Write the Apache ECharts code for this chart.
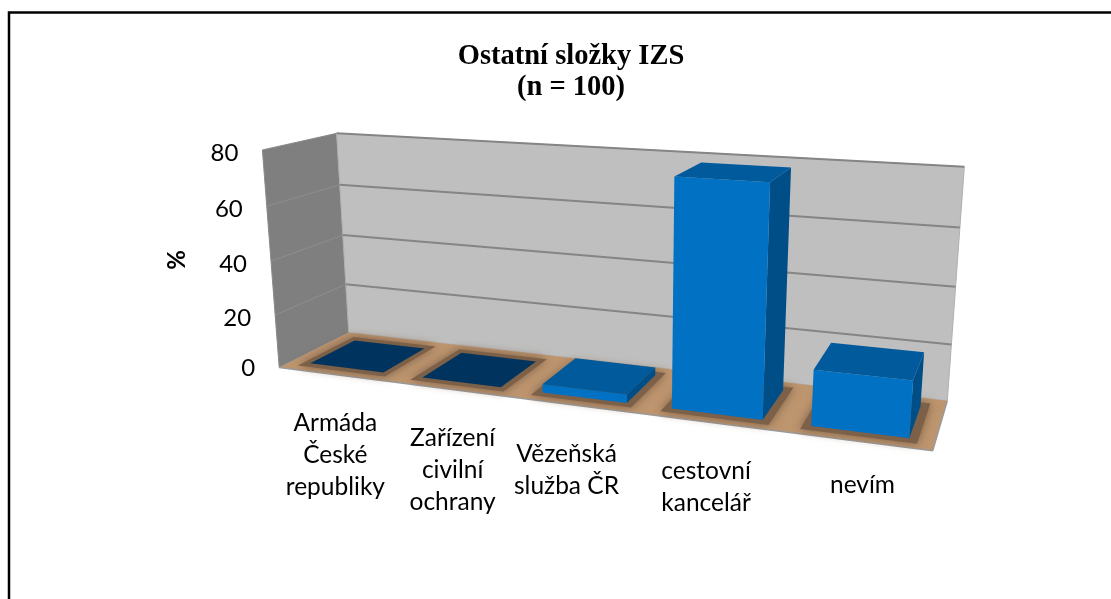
<!DOCTYPE html>
<html>
<head>
<meta charset="utf-8">
<script src="https://cdn.jsdelivr.net/npm/echarts@6/dist/echarts.min.js"></script>
<style>
html, body { margin: 0; padding: 0; background: #fff; }
#chart { width: 1111px; height: 599px; }
</style>
</head>
<body>
<div id="chart"></div>
<script>
const categories = ['Armáda\nČeské\nrepubliky', 'Zařízení\ncivilní\nochrany', 'Vězeňská\nslužba ČR', 'cestovní\nkancelář', 'nevím'];
const values = [0, 0, 3, 78, 19];
const yTicks = [0, 20, 40, 60, 80];

// pixel nudges for the category labels, Excel does not centre them under the bars
const labelDx = [1, 2, -9, -4, 7];
const labelDy = [81, 81, 65, 65, 44];

// box corners: [u, v, h] -> [x, y]
const corners = [
    [[0, 0, 0], [279.3, 367.3]],
    [[1, 0, 0], [932.7, 451]],
    [[0, 1, 0], [348.7, 332.7]],
    [[1, 1, 0], [947.3, 400.7]],
    [[0, 0, 1], [262.3, 150]],
    [[0, 1, 1], [336.7, 133.3]],
    [[1, 1, 1], [964.3, 166.7]]
];

const barFrac = 0.66;
const depth0 = 0.17, depth1 = 0.82;

function solve(A, b) {
    const n = b.length;
    const M = A.map((r, i) => r.concat(b[i]));
    for (let i = 0; i < n; i++) {
        let p = i;
        for (let r = i + 1; r < n; r++) if (Math.abs(M[r][i]) > Math.abs(M[p][i])) p = r;
        [M[i], M[p]] = [M[p], M[i]];
        for (let r = 0; r < n; r++) {
            if (r === i) continue;
            const f = M[r][i] / M[i][i];
            for (let c = i; c <= n; c++) M[r][c] -= f * M[i][c];
        }
    }
    return M.map((r, i) => r[n] / r[i]);
}

// least squares fit of the 3d -> 2d perspective matrix
function fitProjection() {
    const rows = [], rhs = [];
    corners.forEach(([q, p]) => {
        rows.push([q[0], q[1], q[2], 1, 0, 0, 0, 0, -p[0] * q[0], -p[0] * q[1], -p[0] * q[2]]);
        rhs.push(p[0]);
        rows.push([0, 0, 0, 0, q[0], q[1], q[2], 1, -p[1] * q[0], -p[1] * q[1], -p[1] * q[2]]);
        rhs.push(p[1]);
    });
    const ata = [], atb = [];
    for (let i = 0; i < 11; i++) {
        ata.push([]);
        let s = 0;
        for (let k = 0; k < rows.length; k++) s += rows[k][i] * rhs[k];
        atb.push(s);
        for (let j = 0; j < 11; j++) {
            let t = 0;
            for (let k = 0; k < rows.length; k++) t += rows[k][i] * rows[k][j];
            ata[i].push(t);
        }
    }
    return solve(ata, atb);
}
const m = fitProjection();

function project(u, v, h) {
    const w = m[8] * u + m[9] * v + m[10] * h + 1;
    return [
        (m[0] * u + m[1] * v + m[2] * h + m[3]) / w,
        (m[4] * u + m[5] * v + m[6] * h + m[7]) / w
    ];
}

function poly(points, fill, extra) {
    return {
        type: 'polygon',
        shape: { points: points },
        style: Object.assign({ fill: fill }, extra || {})
    };
}

function seg(a, b, color, width) {
    return {
        type: 'line',
        shape: { x1: a[0], y1: a[1], x2: b[0], y2: b[1] },
        style: { stroke: color, lineWidth: width }
    };
}

function heightOf(api, cs, val) {
    return (cs.y + cs.height - api.coord([0, val])[1]) / cs.height;
}

function renderRoom(params, api) {
    const cs = params.coordSys;
    const kids = [];
    kids.push(poly([project(0, 0, 0), project(0, 1, 0), project(0, 1, 1), project(0, 0, 1)], '#7f7f7f', { stroke: '#8a8a8a', lineWidth: 1 }));
    kids.push(poly([project(0, 1, 0), project(1, 1, 0), project(1, 1, 1), project(0, 1, 1)], '#bfbfbf', { stroke: '#b0b0b0', lineWidth: 1 }));
    kids.push(seg(project(0, 1, 1), project(1, 1, 1), '#858585', 2));
    kids.push(poly([project(0, 0, 0), project(1, 0, 0), project(1, 1, 0), project(0, 1, 0)], '#bd956f'));
    kids.push(seg(project(0, 0, 0), project(1, 0, 0), '#9a9a9a', 1.5));
    kids.push(seg(project(1, 0, 0), project(1, 1, 0), '#9a9a9a', 1.5));
    yTicks.forEach(t => {
        const h = heightOf(api, cs, t);
        if (t > 0 && t < 80) {
            kids.push(seg(project(0, 1, h), project(1, 1, h), '#858585', 2));
            kids.push(seg(project(0, 0, h), project(0, 1, h), '#8e8e8e', 1));
        }
        const p = project(0, 0, h);
        kids.push({
            type: 'text',
            style: {
                text: String(t),
                x: p[0] - 24,
                y: p[1] + (t === 0 ? 1 : 3),
                align: 'right',
                verticalAlign: 'middle',
                fontFamily: 'Lato',
                fontSize: 24,
                fill: '#000'
            }
        });
    });
    return { type: 'group', children: kids };
}

function barBounds(params, api) {
    const cs = params.coordSys;
    const i = api.value(0);
    const c = api.coord([i, api.value(1)]);
    const half = api.size([1, 0])[0] * barFrac / 2;
    return {
        u0: (c[0] - half - cs.x) / cs.width,
        u1: (c[0] + half - cs.x) / cs.width,
        h: (cs.y + cs.height - c[1]) / cs.height
    };
}

function renderShadow(params, api) {
    const b = barBounds(params, api);
    const pad = 0.012;
    return poly([
        project(b.u0 - pad, depth0 - 0.08, 0), project(b.u1 + pad, depth0 - 0.08, 0),
        project(b.u1 + pad, depth1 + 0.08, 0), project(b.u0 - pad, depth1 + 0.08, 0)
    ], '#7d6048', { shadowBlur: 10, shadowColor: '#7d6048' });
}

function renderBar(params, api) {
    const b = barBounds(params, api);
    const v = api.value(1);
    const kids = [];
    const tl = project(b.u0, depth0, b.h), tr = project(b.u1, depth0, b.h);
    const bl = project(b.u0, depth0, 0), br = project(b.u1, depth0, 0);
    const tbr = project(b.u1, depth1, b.h), tbl = project(b.u0, depth1, b.h);
    const bbr = project(b.u1, depth1, 0);
    if (v > 0) {
        kids.push(poly([br, bbr, tbr, tr], '#004e87'));
        kids.push(poly([bl, br, tr, tl], '#0071c3'));
        kids.push(poly([tl, tr, tbr, tbl], '#005a9c'));
    } else {
        kids.push(poly([tl, tr, tbr, tbl], '#00345f'));
    }
    return { type: 'group', children: kids };
}

function renderLabel(params, api) {
    const cs = params.coordSys;
    const i = params.dataIndex;
    const c = api.coord([i, 0]);
    const p = project((c[0] - cs.x) / cs.width, 0, 0);
    return {
        type: 'text',
        style: {
            text: categories[i],
            x: p[0] + labelDx[i],
            y: p[1] + labelDy[i],
            align: 'center',
            verticalAlign: 'middle',
            fontFamily: 'Lato',
            fontSize: 24.5,
            lineHeight: 32,
            fill: '#000'
        }
    };
}

const barData = values.map((v, i) => [i, v]);

const chart = echarts.init(document.getElementById('chart'));
chart.setOption({
    backgroundColor: '#fff',
    animation: false,
    title: {
        text: 'Ostatní složky IZS\n(n = 100)',
        left: 566,
        top: 36,
        textAlign: 'center',
        textStyle: { fontFamily: 'Liberation Serif', fontWeight: 'bold', fontSize: 28.5, lineHeight: 31, color: '#000' }
    },
    grid: { left: 262, top: 152, width: 670, height: 216 },
    xAxis: { type: 'category', data: categories, show: false },
    yAxis: {
        type: 'value',
        min: 0,
        max: 80,
        interval: 20,
        name: '%',
        nameLocation: 'middle',
        nameGap: 73,
        nameRotate: 90,
        nameTextStyle: { fontFamily: 'Lato', fontWeight: 'bold', fontSize: 24, color: '#000' },
        axisLine: { show: false },
        axisTick: { show: false },
        splitLine: { show: false },
        axisLabel: { show: false }
    },
    graphic: [{
        type: 'polyline',
        shape: { points: [[9, 599], [9, 12.5], [1111, 12.5]] },
        style: { fill: 'none', stroke: '#000', lineWidth: 2.5 },
        silent: true
    }],
    series: [
        { type: 'custom', renderItem: renderRoom, data: [[0, 0]], silent: true, clip: false },
        { type: 'custom', renderItem: renderShadow, data: barData, silent: true },
        { type: 'custom', renderItem: renderBar, data: barData, silent: true },
        { type: 'custom', renderItem: renderLabel, data: barData, silent: true }
    ]
});
</script>
</body>
</html>
